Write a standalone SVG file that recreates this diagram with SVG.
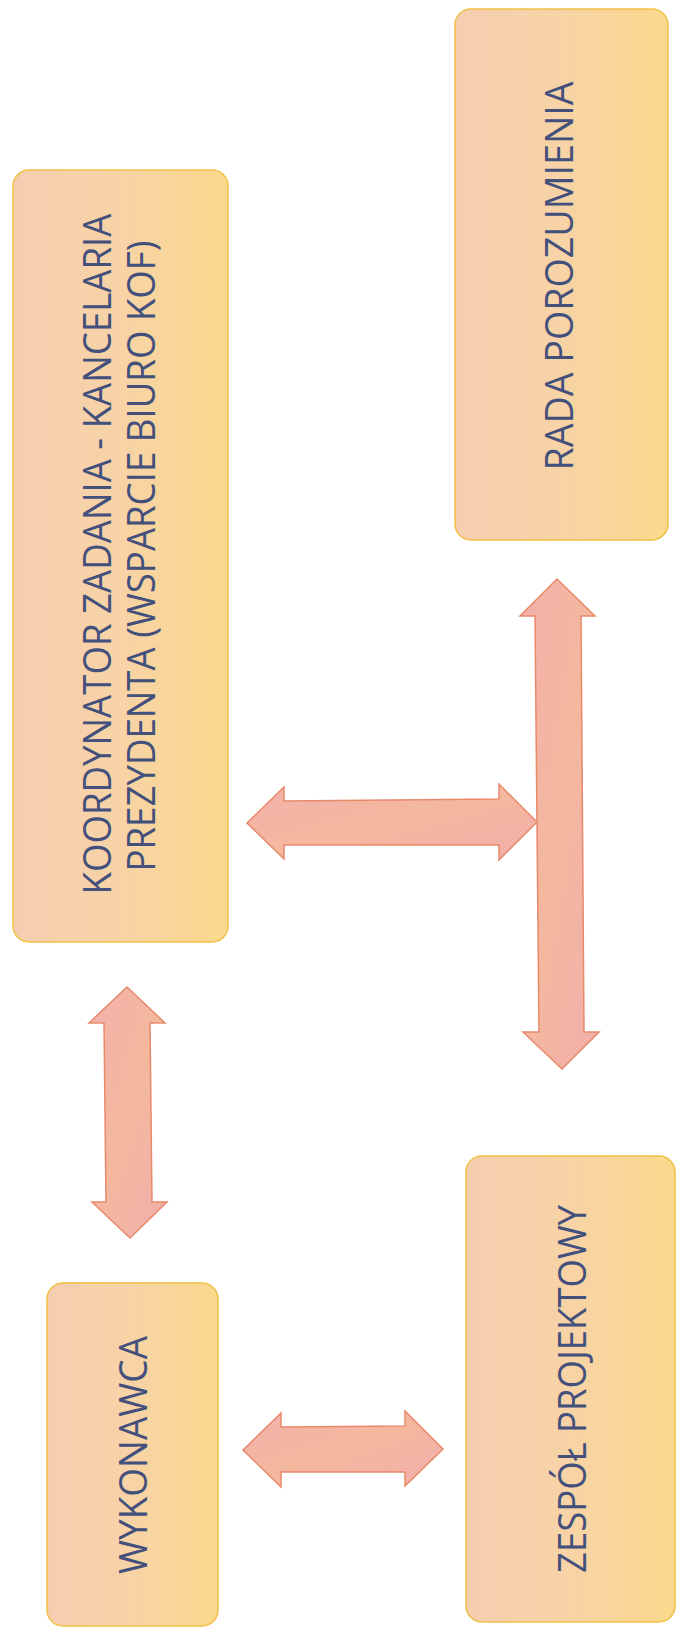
<svg xmlns="http://www.w3.org/2000/svg" width="676" height="1627" viewBox="0 0 676 1627">
<defs>
<linearGradient id="boxFill" x1="0" y1="0" x2="1" y2="0">
<stop offset="0" stop-color="#f5ceb0"/>
<stop offset="0.5" stop-color="#f7d3a6"/>
<stop offset="1" stop-color="#fbd98c"/>
</linearGradient>
<linearGradient id="arrowFill" x1="0" y1="0" x2="1" y2="1">
<stop offset="0" stop-color="#f3b0ab"/>
<stop offset="0.5" stop-color="#f4b89e"/>
<stop offset="1" stop-color="#f2aeab"/>
</linearGradient>
<style>
.box{fill:url(#boxFill);stroke:#f0bf45;stroke-width:1.5}
.arrow{fill:url(#arrowFill);stroke:#e8896c;stroke-width:1.5;stroke-linejoin:miter}
.lbl{font-family:"Open Sans","Liberation Sans",sans-serif;font-size:38px;fill:#43507c;text-anchor:middle}
</style>
</defs>
<rect width="676" height="1627" fill="#ffffff"/>
<g id="connectors">
<path class="arrow" d="M247,823 L284,787 L284,801 L499,799 L499,784 L537,822 L499,860 L499,845 L284,845 L284,859 Z"/>
<path class="arrow" d="M557,579 L595,616 L581,616 L584,1032 L599,1032 L562,1069 L523,1032 L539,1032 L535,616 L520,616 Z"/>
<path class="arrow" d="M127,987 L165,1023 L150,1023 L152,1202 L167,1202 L130,1238 L92,1202 L106,1202 L104,1023 L89,1023 Z"/>
<path class="arrow" d="M243,1450 L281,1413 L281,1427 L405,1426 L405,1411 L443,1449 L405,1486 L405,1472 L281,1472 L281,1487 Z"/>
</g>
<g id="koordynator">
<rect class="box" x="13" y="170" width="215" height="772" rx="16" ry="16"/>
<text class="lbl" transform="translate(111,554) rotate(-90)" textLength="681" lengthAdjust="spacingAndGlyphs">KOORDYNATOR ZADANIA - KANCELARIA</text>
<text class="lbl" transform="translate(155,556) rotate(-90)" textLength="631" lengthAdjust="spacingAndGlyphs">PREZYDENTA (WSPARCIE BIURO KOF)</text>
</g>
<g id="rada">
<rect class="box" x="455" y="9" width="213" height="531" rx="16" ry="16"/>
<text class="lbl" transform="translate(573,276) rotate(-90)" textLength="389" lengthAdjust="spacingAndGlyphs">RADA POROZUMIENIA</text>
</g>
<g id="zespol">
<rect class="box" x="466" y="1156" width="209" height="466" rx="16" ry="16"/>
<text class="lbl" transform="translate(586,1389) rotate(-90)" textLength="368" lengthAdjust="spacingAndGlyphs">ZESPÓŁ PROJEKTOWY</text>
</g>
<g id="wykonawca">
<rect class="box" x="47" y="1283" width="171" height="343" rx="16" ry="16"/>
<text class="lbl" transform="translate(147,1455) rotate(-90)" textLength="238" lengthAdjust="spacingAndGlyphs">WYKONAWCA</text>
</g>
</svg>
